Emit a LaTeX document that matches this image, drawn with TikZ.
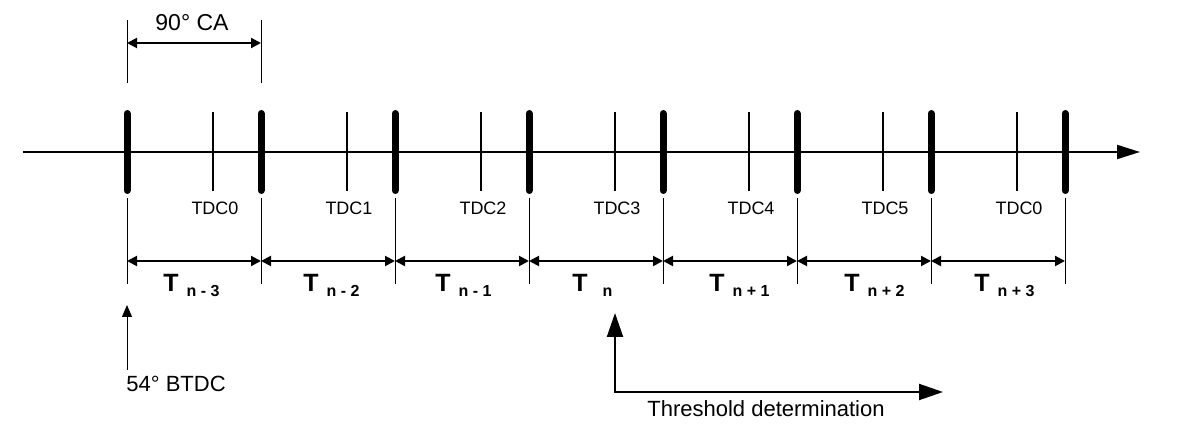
\documentclass[tikz,border=0pt]{standalone}
\usepackage{fontspec}
\setmainfont{Liberation Sans}
\usetikzlibrary{arrows.meta,positioning}

\begin{document}
\begin{tikzpicture}[x=0.5pt,y=-0.5pt, >={Triangle[length=5pt,width=5pt]},
  every node/.style={inner sep=0pt},
  thickbar/.style={line width=3.5pt,line cap=round},
  tdctick/.style={line width=0.9pt},
  extline/.style={line width=0.5pt},
  dim/.style={line width=1pt,<->},
  txt/.style={font=\fontsize{11}{13}\selectfont},
  tdclabel/.style={font=\fontsize{9}{10}\selectfont},
  tlabel/.style={anchor=base west,font=\fontsize{12.5}{14}\selectfont\bfseries}]
\useasboundingbox (0,0) rectangle (1200,442);
% time axis
\coordinate (ax0) at (23,152);
\coordinate (ax1) at (1140,152);
\draw[line width=1pt,-{Triangle[length=11.5pt,width=7pt]}] (ax0) -- (ax1);
% segment marks
\foreach \i in {0,...,7}{
  \coordinate (m\i) at ({127+134*\i},152);
  \coordinate (d\i) at ({127+134*\i},261);
  \draw[thickbar] (m\i) ++(0,-38.5) -- ++(0,77);
  \draw[extline] (m\i) ++(0,46) -- ++(0,86);
}
% TDC ticks
\foreach \i/\name in {0/TDC0,1/TDC1,2/TDC2,3/TDC3,4/TDC4,5/TDC5,6/TDC0}{
  \coordinate (t\i) at ({213+134*\i},152);
  \draw[tdctick] (t\i) ++(0,-40) -- ++(0,79);
  \node[tdclabel] (l\i) at ({215+134*\i},208) {\name};
}
% segment times
\foreach \i [count=\j from 1] in {0,...,6} \draw[dim] (d\i) -- (d\j);
\foreach \i/\dx/\sub in {0/36/{n - 3},1/42/{n - 2},2/40/{n - 1},3/43/{\hspace{3.5pt}n},
    4/46/{n + 1},5/47/{n + 2},6/43/{n + 3}}
  \node[tlabel] (T\i) at ({127+134*\i+\dx},292)
    {T\hspace{4pt}\raisebox{-2.5pt}{\fontsize{8}{9}\selectfont\sub}};
% 90 deg CA
\coordinate (ca0) at (127,20);
\coordinate (ca1) at (261,20);
\coordinate (c0) at (127,43);
\coordinate (c1) at (261,43);
\draw[extline] (ca0) -- ++(0,63);
\draw[extline] (ca1) -- ++(0,63);
\draw[dim] (c0) -- (c1);
\node[txt,font=\fontsize{11.5}{13}\selectfont] (ca) at (192,23) {90° CA};
% 54 deg BTDC
\coordinate (b0) at (127,370);
\coordinate (b1) at (127,305);
\draw[extline,-{Triangle[length=6pt,width=5pt]}] (b0) -- (b1);
\node[txt,anchor=north west] (btdc) at (126,376) {54° BTDC};
% threshold
\coordinate (th0) at (615,313);
\coordinate (th1) at (943,392);
\draw[line width=1pt,{Triangle[length=12pt,width=8pt]}-{Triangle[length=12pt,width=8pt]}] (th0) |- (th1);
\node[txt] (thr) at (766,409) {Threshold determination};
\end{tikzpicture}
\end{document}
